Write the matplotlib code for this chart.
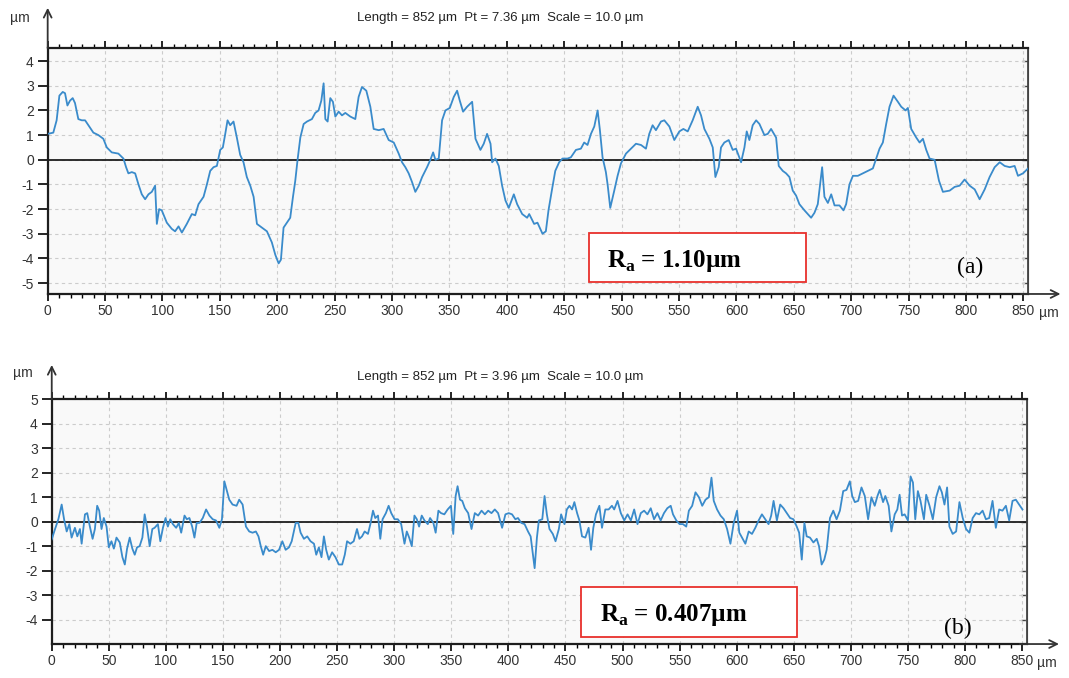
import matplotlib
matplotlib.use("Agg")
import matplotlib.pyplot as plt
from matplotlib.patches import Rectangle
from matplotlib.ticker import MultipleLocator

# ---- data (x in µm, height in µm) ----
top_x = [
    0.0, 4.9, 7.8, 10.2, 13.1, 15.1, 17.2, 19.5, 21.8, 23.8,
    26.7, 29.7, 32.6, 35.5, 39.8, 44.2, 48.5, 51.5, 55.8, 61.6,
    66.0, 68.3, 70.3, 73.3, 76.2, 79.1, 82.0, 84.9, 87.8, 90.7,
    93.6, 95.1, 97.1, 99.4, 103.8, 108.1, 111.0, 114.0, 116.9, 121.2,
    125.6, 128.5, 131.4, 135.8, 138.7, 141.6, 144.5, 147.4, 150.3, 152.6,
    154.7, 156.7, 159.0, 161.9, 164.8, 167.7, 170.6, 173.5, 176.5, 179.4,
    182.3, 186.6, 191.0, 195.3, 198.3, 201.2, 203.2, 205.5, 208.4, 211.3,
    213.7, 215.7, 217.7, 220.1, 223.0, 225.9, 230.2, 233.1, 236.0, 238.4,
    240.4, 241.9, 243.9, 246.2, 248.5, 250.6, 253.5, 256.4, 259.3, 263.7,
    268.0, 270.9, 273.8, 277.6, 281.1, 284.0, 288.4, 292.7, 297.1, 301.5,
    305.8, 308.7, 311.6, 314.5, 317.4, 320.3, 323.3, 326.2, 330.5, 333.4,
    335.8, 337.8, 340.7, 343.6, 346.5, 350.3, 353.8, 356.7, 359.0, 361.9,
    365.4, 369.8, 372.7, 377.0, 379.9, 382.8, 385.8, 387.2, 390.1, 393.0,
    395.9, 398.8, 401.7, 406.1, 409.0, 413.4, 417.7,
    419.5, 423.8, 426.7, 431.1, 434.0, 436.3, 439.2, 442.2, 445.6, 448.5,
    452.9, 455.8, 460.2, 464.5, 467.4, 470.3, 473.3, 476.2, 479.1, 481.1,
    483.4, 486.3, 487.8, 490.1, 493.6, 496.5, 499.4, 503.8, 508.1, 512.5,
    516.9, 521.2, 524.1, 527.0, 529.9, 534.3, 537.2, 541.6, 545.9, 550.3,
    553.8, 557.6, 561.9, 566.3, 569.2, 572.1, 576.5, 579.4, 581.7, 584.6,
    586.6, 589.5, 593.3, 596.8, 599.7, 604.1, 607.0, 609.0, 611.3, 614.2,
    617.2, 620.1, 624.4, 627.3, 630.2, 634.6, 636.9, 640.4, 643.3, 646.2,
    649.1, 652.0, 654.9, 659.3, 665.1, 668.0, 670.9, 672.9, 674.7, 676.7,
    679.7, 682.6, 685.5, 689.8, 693.3, 695.6, 698.5, 701.5, 705.8, 710.2,
    714.5, 718.9, 721.8, 724.7, 727.6, 730.5, 733.4, 736.9, 740.7, 743.6,
    747.4, 749.4, 752.3, 756.7, 759.6, 762.5, 765.4, 768.3, 772.7, 776.5,
    779.9, 785.8, 790.1, 794.5, 798.8, 803.2, 807.6, 811.9, 816.3, 820.6,
    825.0, 829.4, 833.7, 838.1, 842.4, 845.3, 849.7, 854.1,
]
top_y = [
    1.05, 1.1, 1.6, 2.6, 2.75, 2.7, 2.2, 2.4, 2.5, 2.3,
    1.65, 1.6, 1.6, 1.4, 1.1, 1.0, 0.85, 0.5, 0.3, 0.25,
    0.05, -0.3, -0.55, -0.5, -0.55, -1.0, -1.4, -1.6, -1.4, -1.3,
    -1.05, -2.6, -2.0, -2.05, -2.55, -2.8, -2.9, -2.7, -2.95, -2.6,
    -2.2, -2.25, -1.8, -1.5, -1.0, -0.45, -0.3, -0.25, 0.4, 0.5,
    1.05, 1.6, 1.4, 1.55, 0.9, 0.2, -0.1, -0.7, -1.05, -1.5,
    -2.6, -2.75, -2.9, -3.35, -3.85, -4.2, -4.05, -2.75, -2.55, -2.35,
    -1.5, -0.85, 0.0, 0.9, 1.45, 1.55, 1.65, 1.9, 2.0, 2.4,
    3.1, 1.65, 1.55, 2.5, 2.35, 1.75, 1.95, 1.8, 1.9, 1.75,
    1.65, 2.55, 2.95, 2.8, 2.15, 1.25, 1.2, 1.25, 0.8, 0.7,
    0.25, -0.1, -0.3, -0.55, -0.9, -1.3, -1.05, -0.7, -0.3, 0.0,
    0.3, 0.0, 0.05, 1.6, 2.0, 2.1, 2.55, 2.8, 2.4, 1.95,
    2.15, 2.35, 0.85, 0.4, 0.65, 1.05, 0.65, -0.1, 0.05, -0.25,
    -1.05, -1.65, -1.95, -1.4, -1.8, -2.2, -2.35,
    -2.2, -2.6, -2.55, -3.0, -2.9, -2.05, -1.25, -0.45, -0.1, 0.05,
    0.05, 0.1, 0.4, 0.45, 0.7, 0.6, 1.05, 1.35, 2.0, 1.2,
    0.1, -0.5, -1.0, -1.95, -1.25, -0.65, -0.15, 0.25, 0.45, 0.65,
    0.6, 0.45, 1.05, 1.4, 1.2, 1.55, 1.6, 1.35, 0.8, 1.15,
    1.25, 1.15, 1.6, 2.15, 1.8, 1.25, 0.85, 0.5, -0.7, -0.3,
    0.5, 0.7, 0.8, 0.4, 0.45, -0.1, 0.5, 1.15, 0.8, 1.4,
    1.6, 1.45, 1.0, 1.05, 1.25, 0.9, -0.25, -0.45, -0.55, -0.7,
    -1.25, -1.45, -1.8, -2.05, -2.35, -2.15, -1.8, -1.0, -0.3, -1.5,
    -1.75, -1.4, -1.85, -1.85, -2.05, -1.8, -1.0, -0.65, -0.65, -0.55,
    -0.45, -0.35, 0.05, 0.45, 0.7, 1.45, 2.15, 2.6, 2.35, 2.15,
    2.0, 2.1, 1.25, 0.9, 0.7, 0.85, 0.4, 0.05, 0.0, -0.85,
    -1.3, -1.25, -1.1, -1.05, -0.8, -1.05, -1.2, -1.6, -1.2, -0.7,
    -0.3, -0.1, -0.25, -0.3, -0.25, -0.65, -0.55, -0.35,
]

bot_x = [
    0.0, 2.9, 5.8, 8.7, 10.8, 13.1, 15.4, 17.4, 20.3, 22.4,
    24.7, 26.2, 29.1, 31.1, 33.4, 35.8, 37.8, 39.8, 41.6, 43.6,
    45.6, 48.0, 50.0, 52.3, 54.4, 56.7, 59.6, 61.9, 64.0, 66.0,
    68.3, 70.6, 72.7, 74.7, 77.0, 79.4, 81.4, 83.4, 85.8, 88.1,
    90.1, 93.0, 95.1, 97.4, 99.7, 101.7, 103.8, 106.1, 109.0, 111.3,
    113.4, 116.3, 118.3, 120.6, 123.0, 125.0, 127.0, 129.4, 132.3, 135.2,
    138.1, 141.0, 143.9, 146.8, 149.1, 151.2, 153.2, 155.5, 158.4, 161.9,
    164.2, 167.2, 170.1, 173.0, 175.9, 178.8, 181.1, 183.1, 185.2, 187.5,
    190.4, 193.3, 196.2, 199.1, 202.0, 204.9, 207.8, 210.2, 213.7, 216.0,
    218.0, 220.9, 223.8, 226.7, 229.7, 231.7, 234.0, 236.3, 238.4, 240.4,
    242.7, 245.6, 248.5, 251.5, 254.4, 256.7, 258.7, 261.6, 264.5, 267.4,
    269.5, 271.8, 274.1, 277.0, 279.1, 281.4, 283.4, 285.8, 287.8, 289.8,
    292.7, 295.1, 297.4, 300.3, 303.2, 306.1, 309.0, 311.0, 313.1, 315.4,
    317.7, 319.8, 321.8, 324.1, 326.5, 329.4, 331.4, 334.3, 336.3, 338.7,
    341.0, 343.9, 346.8, 349.7, 351.7, 353.8, 355.5, 357.6, 359.6, 361.9,
    364.8, 367.7, 370.6, 373.5, 376.5, 379.4, 382.3, 385.2, 388.1, 391.0,
    394.5, 397.4, 400.3, 403.2, 406.1, 408.4, 411.3, 414.2, 417.2, 419.5,
    423.0, 425.0, 426.7, 429.7, 431.7, 433.7, 436.0, 438.9, 441.3, 444.2,
    446.2, 449.1, 451.2, 453.5, 455.8, 457.8, 460.2, 462.2, 464.5, 467.4,
    470.3, 472.4, 474.4, 476.7, 479.7, 482.0, 484.9, 487.8, 490.7, 492.7,
    495.6, 498.5, 501.5, 504.4, 507.3, 510.2, 513.1, 516.0, 518.9, 521.8,
    524.7, 527.6, 530.5, 533.4, 536.3, 539.2, 542.2, 544.2, 547.1, 550.0,
    552.9, 555.8, 558.1, 561.0, 563.9, 566.9, 569.8, 572.7, 575.6, 577.9,
    579.9, 582.8, 585.8, 588.7, 591.6, 594.5, 597.4, 600.3, 602.3, 604.7,
    607.6, 610.5, 613.4, 616.3, 619.2, 622.1, 625.0, 627.9, 630.2, 632.3,
    635.2, 638.1, 641.0, 643.9, 646.8, 649.7, 652.6, 654.7, 657.0, 659.3,
    661.3, 664.2, 667.2, 670.1, 672.1, 674.4, 676.7, 678.8, 681.7, 684.6,
    687.5, 690.4, 693.3, 696.2, 699.1, 701.2, 703.5, 706.4, 709.3, 712.2,
    715.1, 718.0, 720.9, 723.3, 725.3, 728.2, 730.2, 733.1, 735.5, 738.4,
    740.7, 742.7, 744.8, 747.1, 750.0, 752.3, 754.4, 756.4, 758.7, 761.0,
    764.0, 766.0, 768.9, 771.8, 774.7, 777.6, 779.7, 782.0, 784.3, 786.3,
    789.2, 792.2, 795.1, 798.0, 800.9, 803.8, 806.7, 809.6, 812.5, 815.4,
    818.3, 821.2, 824.1, 827.0, 829.9, 832.8, 835.8, 838.7, 841.6, 844.5,
    847.4, 850.3,
]
bot_y = [
    -0.72, -0.3, 0.1, 0.7, 0.1, -0.4, -0.1, -0.65, -0.25, -0.6,
    -0.3, -0.9, 0.3, 0.35, -0.2, -0.7, -0.3, 0.65, 0.45, -0.3,
    0.15, -0.2, -1.05, -0.8, -1.1, -0.65, -0.85, -1.45, -1.75, -1.1,
    -0.65, -1.1, -1.35, -1.05, -1.0, -0.65, 0.3, -0.2, -1.0, -0.3,
    -0.25, -0.1, -0.8, -0.25, 0.15, -0.2, 0.1, -0.1, -0.25, -0.05,
    -0.45, 0.25, 0.1, 0.15, -0.2, -0.65, -0.05, -0.05, 0.15, 0.5,
    0.25, 0.1, 0.05, -0.25, 0.1, 1.65, 1.3, 0.9, 0.7, 0.65,
    0.9, 0.7, -0.2, -0.4, -0.45, -0.4, -0.6, -1.0, -1.35, -1.0,
    -1.2, -1.15, -1.25, -1.15, -0.8, -1.15, -1.05, -0.8, -0.05, -0.05,
    -0.45, -0.7, -0.6, -0.8, -0.9, -1.35, -1.05, -1.45, -0.6, -1.15,
    -1.55, -1.25, -1.45, -1.75, -1.75, -1.35, -0.8, -0.9, -0.8, -0.3,
    -0.7, -0.6, -0.4, -0.5, -0.1, 0.45, 0.15, 0.25, -0.7, 0.1,
    0.35, 0.65, 0.35, 0.1, 0.1, -0.1, -0.9, -0.4, -0.65, -1.0,
    0.25, 0.1, -0.2, 0.25, 0.05, -0.1, 0.15, -0.05, -0.45, 0.45,
    0.35, 0.3, 0.5, 0.65, -0.5, 1.05, 1.45, 0.9, 0.85, 0.55,
    0.35, -0.3, 0.35, 0.25, 0.45, 0.3, 0.45, 0.35, 0.5, 0.35,
    -0.25, 0.3, 0.35, 0.3, 0.1, 0.15, -0.05, -0.1, -0.4, -0.6,
    -1.9, -0.65, 0.05, 0.1, 1.05, 0.3, -0.3, -0.5, -0.8, -0.3,
    0.3, -0.1, 0.5, 0.65, 0.5, 0.8, 0.35, 0.05, -0.6, -0.65,
    -0.25, -1.15, -0.25, 0.3, 0.65, -0.25, 0.5, 0.5, 0.65, 0.5,
    0.85, 0.35, 0.05, 0.3, 0.05, 0.5, -0.1, 0.35, 0.45, 0.3,
    0.55, 0.1, 0.35, 0.05, 0.35, 0.55, 0.65, 0.3, 0.05, -0.1,
    -0.1, -0.2, 0.45, 0.65, 1.2, 1.0, 0.65, 0.9, 1.0, 1.8,
    0.85, 0.5, 0.25, 0.1, -0.3, -0.9, -0.05, 0.45, -0.45, -0.65,
    -0.9, -0.4, -0.5, -0.25, 0.05, 0.3, 0.1, -0.1, 0.25, 0.85,
    0.05, 0.7, 0.55, 0.35, 0.15, 0.1, -0.2, -0.45, -1.55, -0.05,
    -0.6, -0.65, -0.85, -0.7, -1.0, -1.75, -1.55, -1.15, 0.15, 0.45,
    0.1, 0.45, 1.25, 1.3, 1.65, 1.05, 0.8, 0.85, 1.4, 1.05,
    0.1, 1.0, 0.65, 1.05, 1.3, 0.8, 1.05, 0.65, -0.4, 0.3,
    0.5, 1.1, 0.25, 0.3, 0.05, 1.85, 1.6, 0.1, 1.25, 0.85,
    0.1, 1.1, 0.65, 0.1, 1.0, 1.45, 1.2, 0.7, 1.4, -0.2,
    -0.5, -0.4, 0.8, 0.15, -0.3, -0.45, 0.15, 0.35, 0.3, 0.45,
    0.1, 0.15, 0.85, -0.25, 0.5, 0.45, 0.65, 0.05, 0.85, 0.9,
    0.7, 0.5,
]

top_header = "Length = 852 µm  Pt = 7.36 µm  Scale = 10.0 µm"
bot_header = "Length = 852 µm  Pt = 3.96 µm  Scale = 10.0 µm"
top_ra = "R$_{\\mathrm{a}}$ = 1.10µm"
bot_ra = "R$_{\\mathrm{a}}$ = 0.407µm"
top_yticks = [4, 3, 2, 1, 0, -1, -2, -3, -4, -5]
bot_yticks = [5, 4, 3, 2, 1, 0, -1, -2, -3, -4]

plt.rcParams['font.family'] = ['Liberation Sans', 'DejaVu Sans']
plt.rcParams['axes.unicode_minus'] = False
plt.rcParams['mathtext.fontset'] = 'custom'
plt.rcParams['mathtext.rm'] = 'Liberation Serif:bold'
plt.rcParams['mathtext.bf'] = 'Liberation Serif:bold'

LINE = '#3a8bcb'
INK = '#333333'


def draw_panel(fig, rect, xs, ys, ylim, yticks, header, header_y,
               ra_text, box, ra_pos, tag, tag_pos, yarrow_top, yunit_pos):
    ax = fig.add_axes(rect)
    ax.set_facecolor('#f9f9f9')
    ax.plot(xs, ys, color=LINE, lw=1.3, zorder=3)
    ax.axhline(0, color='#1e1e1e', lw=1.3, zorder=2)

    ax.set_xlim(0, 854)
    ax.set_ylim(*ylim)
    ax.xaxis.set_major_locator(MultipleLocator(50))
    ax.xaxis.set_minor_locator(MultipleLocator(10))
    ax.set_yticks(yticks)
    ax.grid(True, which='major', color='#cccccc', lw=0.8,
            linestyle=(0, (3, 3)), zorder=1)

    ax.tick_params(axis='x', which='major', direction='out', length=5,
                   width=1.2, top=True, labeltop=False, labelsize=10,
                   labelcolor=INK, pad=2)
    ax.tick_params(axis='x', which='minor', direction='out', length=3,
                   width=1.0, top=True)
    ax.tick_params(axis='y', which='major', direction='out', length=7,
                   width=1.2, right=False, labelsize=10, labelcolor=INK, pad=3)

    for side in ('left', 'bottom', 'top'):
        ax.spines[side].set_linewidth(1.6)
        ax.spines[side].set_color('#1e1e1e')
    ax.spines['right'].set_linewidth(1.3)
    ax.spines['right'].set_color('#444444')

    sec = ax.secondary_yaxis('right')
    sec.set_yticks(yticks)
    sec.tick_params(direction='in', length=4, width=1.0, labelright=False,
                    color='#444444')
    sec.spines['right'].set_color('#444444')

    # axis arrows and units
    ax.annotate('', xy=(1.036, 0), xytext=(0.99, 0), xycoords='axes fraction',
                arrowprops=dict(arrowstyle='->', lw=1.3, color='#333333',
                                mutation_scale=14), annotation_clip=False)
    ax.annotate('', xy=(0, yarrow_top), xytext=(0, 0.99),
                xycoords='axes fraction',
                arrowprops=dict(arrowstyle='->', lw=1.3, color='#333333',
                                mutation_scale=14), annotation_clip=False)
    ax.text(1.021, -0.078, 'µm', transform=ax.transAxes, ha='center',
            va='center', fontsize=10, color=INK)
    ax.text(yunit_pos[0], yunit_pos[1], 'µm', transform=ax.transAxes,
            ha='center', va='center', fontsize=10, color=INK)

    fig.text(0.468, header_y, header, ha='center', va='center',
             fontsize=9.5, color='#222222')

    ax.add_patch(Rectangle((box[0], box[1]), box[2], box[3],
                           transform=ax.transAxes, facecolor='white',
                           edgecolor='#e8302c', lw=1.3, zorder=5))
    ax.text(ra_pos[0], ra_pos[1], ra_text, transform=ax.transAxes,
            ha='left', va='center', fontsize=18, fontweight='bold',
            family='Liberation Serif', color='black', zorder=6)
    ax.text(tag_pos[0], tag_pos[1], tag, transform=ax.transAxes,
            ha='center', va='center', fontsize=17,
            family='Liberation Serif', color='black', zorder=6)
    return ax


fig = plt.figure(figsize=(10.69, 6.78), dpi=100)
fig.patch.set_facecolor('white')

draw_panel(fig, [0.0446, 0.5664, 0.917, 0.3624], top_x, top_y,
           (-5.44, 4.52), top_yticks, top_header, 0.973,
           top_ra, (0.552, 0.048, 0.2215, 0.202), (0.5705, 0.135),
           '(a)', (0.941, 0.106), 1.176, (-0.028, 1.123))

draw_panel(fig, [0.0484, 0.0501, 0.912, 0.3609], bot_x, bot_y,
           (-5.0, 5.0), bot_yticks, bot_header, 0.4434,
           bot_ra, (0.5426, 0.030, 0.2215, 0.2017), (0.5624, 0.120),
           '(b)', (0.9295, 0.065), 1.152, (-0.030, 1.107))

fig.savefig('out.png', dpi=100, facecolor='white')
